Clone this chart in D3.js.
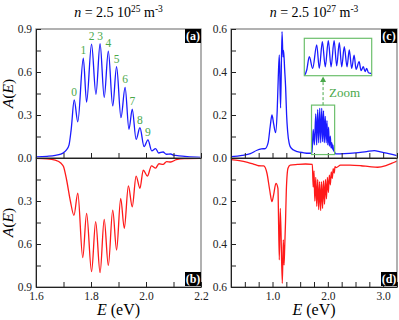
<!DOCTYPE html>
<html>
<head>
<meta charset="utf-8">
<script src="https://cdn.jsdelivr.net/npm/d3@7"></script>
<style>
body { margin: 0; background: #fff; }
</style>
</head>
<body>
<div id="chart"></div>
<script>
// panel (a): blue, n = 2.5e25
var aE = [1.60, 1.64, 1.67, 1.69, 1.70, 1.71, 1.72, 1.728, 1.739, 1.752, 1.772, 1.784, 1.802, 1.818, 1.833, 1.848, 1.863, 1.879, 1.893, 1.909, 1.924, 1.938, 1.950, 1.964, 1.978, 1.993, 2.007, 2.021, 2.035, 2.046, 2.062, 2.074, 2.09, 2.10, 2.12, 2.15, 2.20];
var aA = [0.008, 0.012, 0.018, 0.027, 0.037, 0.055, 0.09, 0.2, 0.405, 0.253, 0.696, 0.39, 0.795, 0.444, 0.797, 0.423, 0.746, 0.363, 0.637, 0.281, 0.493, 0.2, 0.34, 0.13, 0.211, 0.079, 0.126, 0.05, 0.066, 0.035, 0.042, 0.026, 0.028, 0.02, 0.015, 0.01, 0.005];
// peak numbers of (a)
var peakNum = ["0", "1", "2", "3", "4", "5", "6", "7", "8", "9"];
var peakE = [1.739, 1.772, 1.802, 1.833, 1.863, 1.893, 1.924, 1.950, 1.978, 2.007];
var peakA = [0.405, 0.696, 0.795, 0.797, 0.746, 0.637, 0.493, 0.34, 0.211, 0.126];

// panel (b): red
var bE = [1.60, 1.64, 1.67, 1.69, 1.70, 1.711, 1.725, 1.738, 1.752, 1.770, 1.784, 1.802, 1.817, 1.833, 1.848, 1.863, 1.879, 1.893, 1.908, 1.921, 1.936, 1.950, 1.964, 1.978, 1.990, 2.005, 2.020, 2.035, 2.047, 2.062, 2.075, 2.090, 2.11, 2.14, 2.20];
var bA = [0.003, 0.006, 0.015, 0.035, 0.06, 0.15, 0.3, 0.40, 0.246, 0.695, 0.386, 0.793, 0.444, 0.80, 0.428, 0.749, 0.363, 0.642, 0.281, 0.49, 0.195, 0.34, 0.126, 0.211, 0.084, 0.126, 0.055, 0.07, 0.04, 0.045, 0.025, 0.028, 0.012, 0.004, 0.002];

// panel (c): blue, n = 2.5e27
var cE = [0.25, 0.45, 0.60, 0.72, 0.80, 0.87, 0.92, 0.96, 0.99, 1.02, 1.056, 1.085, 1.105, 1.123, 1.146, 1.172, 1.19, 1.20, 1.22, 1.237, 1.255, 1.274, 1.30, 1.32, 1.38, 1.45, 1.55, 1.65, 1.705];
var cA = [0.006, 0.012, 0.02, 0.036, 0.042, 0.044, 0.07, 0.15, 0.2, 0.16, 0.118, 0.22, 0.38, 0.479, 0.233, 0.588, 0.47, 0.50, 0.41, 0.33, 0.2, 0.122, 0.07, 0.053, 0.037, 0.03, 0.025, 0.022, 0.022];
var cOscE = [1.711, 1.72, 1.736, 1.757, 1.782, 1.798, 1.817, 1.835, 1.854, 1.871, 1.89, 1.906, 1.922, 1.937, 1.953, 1.97, 1.984, 1.999, 2.014, 2.026, 2.045, 2.057, 2.071, 2.082, 2.092, 2.103, 2.117];
var cOscA = [0.026, 0.051, 0.133, 0.061, 0.205, 0.061, 0.225, 0.071, 0.231, 0.071, 0.231, 0.076, 0.219, 0.071, 0.194, 0.071, 0.174, 0.061, 0.143, 0.055, 0.102, 0.047, 0.071, 0.041, 0.061, 0.034, 0.031];
var cTailE = [2.14, 2.30, 2.50, 2.70, 2.84, 2.95, 3.10, 3.25];
var cTailA = [0.019, 0.02, 0.024, 0.03, 0.034, 0.028, 0.02, 0.011];

// panel (d): red
var dE = [0.25, 0.40, 0.55, 0.655, 0.75, 0.84, 0.90, 0.95, 0.99, 1.02, 1.062, 1.098, 1.123, 1.141, 1.177, 1.195, 1.208, 1.22, 1.235, 1.25, 1.28, 1.32, 1.45, 1.60, 1.72];
var dA = [0.008, 0.012, 0.02, 0.028, 0.036, 0.037, 0.071, 0.15, 0.203, 0.172, 0.118, 0.141, 0.474, 0.234, 0.583, 0.381, 0.498, 0.42, 0.3, 0.149, 0.048, 0.033, 0.03, 0.028, 0.03];
var dOscE = [1.735, 1.75, 1.765, 1.782, 1.80, 1.817, 1.835, 1.852, 1.87, 1.887, 1.905, 1.922, 1.94, 1.957, 1.975, 1.992, 2.01, 2.027, 2.045, 2.062, 2.08, 2.097, 2.115, 2.13, 2.15];
var dOscA = [0.135, 0.06, 0.2, 0.09, 0.225, 0.1, 0.24, 0.11, 0.245, 0.11, 0.235, 0.105, 0.215, 0.1, 0.19, 0.09, 0.16, 0.08, 0.125, 0.065, 0.095, 0.05, 0.07, 0.04, 0.045];
var dTailE = [2.23, 2.40, 2.60, 2.75, 2.90, 3.05, 3.15, 3.25];
var dTailA = [0.033, 0.033, 0.036, 0.04, 0.043, 0.035, 0.025, 0.014];

// zoom window of (c)
var zoomE = [1.705, 2.123];
var zoomA = [0.016, 0.246];

// ticks
var leftXTicks = [1.6, 1.7, 1.8, 1.9, 2.0, 2.1, 2.2];
var leftXLabels = [1.6, 1.8, 2.0, 2.2];
var leftYTicks = [0, 0.15, 0.3, 0.45, 0.6, 0.75, 0.9];
var leftYLabels = [0.3, 0.6, 0.9];
var rightXTicks = [0.25, 0.5, 0.75, 1.0, 1.25, 1.5, 1.75, 2.0, 2.25, 2.5, 2.75, 3.0, 3.25];
var rightXLabels = [1.0, 2.0, 3.0];
var rightYTicks = [0, 0.1, 0.2, 0.3, 0.4, 0.5, 0.6];
var rightYLabels = [0.2, 0.4, 0.6];

var serif = "Liberation Serif";
var green = "#4aa84a", boxGreen = "#6cbf6c";
var topY = 29, midY = 158, botY = 287;

var svg = d3.select("#chart").append("svg")
    .attr("width", 399).attr("height", 320)
    .style("font-family", serif);

function pick(labels, withZero) {
    return function(d) {
        var ok = labels.some(function(l) { return Math.abs(l - d) < 1e-9; });
        if (withZero && Math.abs(d) < 1e-9) ok = true;
        return ok ? d3.format(".1f")(d) : "";
    };
}

function styleAxis(g) {
    g.attr("font-family", null).attr("font-size", 11.5);
    g.selectAll("path, line").attr("stroke", "#222").attr("stroke-width", 1);
    g.selectAll("text").attr("fill", "#222");
}

var clipId = 0;
function drawPanel(x, y, yTicks, yLabels, withZero, xTicks, xLabels, showX, series, color, tag, tagTop) {
    var x0 = x.range()[0], x1 = x.range()[1];
    var yr = y.range(), y0 = Math.min(yr[0], yr[1]), y1 = Math.max(yr[0], yr[1]);
    clipId++;
    svg.append("clipPath").attr("id", "clip" + clipId)
      .append("rect").attr("x", x0).attr("y", y0).attr("width", x1 - x0).attr("height", y1 - y0);

    var line = d3.line()
        .x(function(d) { return x(d[0]); })
        .y(function(d) { return y(d[1]); })
        .curve(d3.curveMonotoneX);
    svg.append("path")
        .datum(series)
        .attr("clip-path", "url(#clip" + clipId + ")")
        .attr("fill", "none")
        .attr("stroke", color)
        .attr("stroke-width", 1.3)
        .attr("d", line);

    // frame
    svg.append("rect").attr("x", x0).attr("y", y0).attr("width", x1 - x0).attr("height", y1 - y0)
        .attr("fill", "none").attr("stroke", "#888").attr("stroke-width", 1.3);

    var ya = svg.append("g").attr("transform", "translate(" + x0 + ",0)")
        .call(d3.axisLeft(y).tickValues(yTicks).tickSizeInner(-5).tickSizeOuter(0).tickPadding(4)
            .tickFormat(pick(yLabels, withZero)));
    styleAxis(ya);

    var xa = svg.append("g").attr("transform", "translate(0," + (tagTop ? midY : botY) + ")")
        .call(d3.axisBottom(x).tickValues(xTicks).tickSizeInner(-5).tickSizeOuter(0).tickPadding(5)
            .tickFormat(showX ? pick(xLabels, false) : function() { return ""; }));
    styleAxis(xa);

    // panel tag
    var tw = 16, th = 14;
    var ty = tagTop ? y0 : y1 - th - 1;
    svg.append("rect").attr("x", x1 - tw).attr("y", ty).attr("width", tw).attr("height", th).attr("fill", "#000");
    svg.append("text").attr("x", x1 - tw / 2).attr("y", ty + th / 2 + 4)
        .attr("text-anchor", "middle").attr("fill", "#fff").attr("font-weight", "bold")
        .attr("font-size", 12).text(tag);
}

function zip(E, A) { return E.map(function(e, i) { return [e, A[i]]; }); }

// scales
var xL = d3.scaleLinear().domain([1.6, 2.2]).range([36, 201]);
var xR = d3.scaleLinear().domain([0.25, 3.25]).range([231, 397]);
var yA = d3.scaleLinear().domain([0, 0.9]).range([midY, topY]);
var yB = d3.scaleLinear().domain([0, 0.9]).range([midY, botY]);
var yC = d3.scaleLinear().domain([0, 0.6]).range([midY, topY]);
var yD = d3.scaleLinear().domain([0, 0.6]).range([midY, botY]);

drawPanel(xL, yB, leftYTicks, leftYLabels, false, leftXTicks, leftXLabels, true, zip(bE, bA), "#ff1a1a", "(b)", false);
drawPanel(xL, yA, leftYTicks, leftYLabels, true, leftXTicks, leftXLabels, false, zip(aE, aA), "#1a1aff", "(a)", true);
drawPanel(xR, yD, rightYTicks, rightYLabels, false, rightXTicks, rightXLabels, true,
    zip(dE.concat(dOscE, dTailE), dA.concat(dOscA, dTailA)), "#ff1a1a", "(d)", false);
var cSeries = zip(cE.concat(cOscE, cTailE), cA.concat(cOscA, cTailA));
drawPanel(xR, yC, rightYTicks, rightYLabels, true, rightXTicks, rightXLabels, false, cSeries, "#1a1aff", "(c)", true);

// peak numbers
svg.append("g").selectAll("text").data(peakNum).join("text")
    .attr("x", function(d, i) { return xL(peakE[i]); })
    .attr("y", function(d, i) { return yA(peakA[i]) - 4; })
    .attr("text-anchor", "middle").attr("font-size", 11.5).attr("fill", green)
    .text(function(d) { return d; });

// zoom box in (c)
var bx0 = xR(zoomE[0]), bx1 = xR(zoomE[1]), by0 = yC(zoomA[1]), by1 = yC(zoomA[0]);
svg.append("rect").attr("x", bx0).attr("y", by0).attr("width", bx1 - bx0).attr("height", by1 - by0)
    .attr("fill", "none").attr("stroke", boxGreen).attr("stroke-width", 1.2);

// inset
var ix = d3.scaleLinear().domain(zoomE).range([304.3, 371.7]);
var iy = d3.scaleLinear().domain(zoomA).range([75.7, 38.3]);
svg.append("clipPath").attr("id", "clipInset")
  .append("rect").attr("x", 304.3).attr("y", 38.3).attr("width", 67.4).attr("height", 37.4);
svg.append("rect").attr("x", 304.3).attr("y", 38.3).attr("width", 67.4).attr("height", 37.4)
    .attr("fill", "#fff");
svg.append("path").datum(cSeries)
    .attr("clip-path", "url(#clipInset)")
    .attr("fill", "none").attr("stroke", "#1a1aff").attr("stroke-width", 1.3)
    .attr("d", d3.line().x(function(d) { return ix(d[0]); }).y(function(d) { return iy(d[1]); }).curve(d3.curveMonotoneX));
svg.append("rect").attr("x", 304.3).attr("y", 38.3).attr("width", 67.4).attr("height", 37.4)
    .attr("fill", "none").attr("stroke", boxGreen).attr("stroke-width", 1.2);

// arrow
var ax = (bx0 + bx1) / 2;
svg.append("line").attr("x1", ax).attr("x2", ax).attr("y1", by0).attr("y2", 82)
    .attr("stroke", green).attr("stroke-width", 1).attr("stroke-dasharray", "3,2");
svg.append("path").attr("d", "M" + (ax - 3) + ",82L" + (ax + 3) + ",82L" + ax + ",76.5Z").attr("fill", green);
svg.append("text").attr("x", 329).attr("y", 97).attr("font-size", 13).attr("fill", green).text("Zoom");

// titles
function title(cx, expo) {
    var t = svg.append("text").attr("x", cx).attr("y", 17).attr("text-anchor", "middle").attr("font-size", 14);
    t.append("tspan").attr("font-style", "italic").text("n");
    t.append("tspan").text(" = 2.5 10");
    t.append("tspan").attr("dy", -5).attr("font-size", 9.5).text(expo);
    t.append("tspan").attr("dy", 5).text(" m");
    t.append("tspan").attr("dy", -5).attr("font-size", 9.5).text("-3");
}
title(118.5, "25");
title(314, "27");

// axis titles
function yTitle(cy) {
    var t = svg.append("text").attr("transform", "translate(13," + cy + ") rotate(-90)")
        .attr("text-anchor", "middle").attr("font-size", 15.5);
    t.append("tspan").attr("font-style", "italic").text("A");
    t.append("tspan").text("(");
    t.append("tspan").attr("font-style", "italic").text("E");
    t.append("tspan").text(")");
}
yTitle((topY + midY) / 2);
yTitle((midY + botY) / 2);

function xTitle(cx) {
    var t = svg.append("text").attr("x", cx).attr("y", 315).attr("text-anchor", "middle").attr("font-size", 16);
    t.append("tspan").attr("font-style", "italic").text("E");
    t.append("tspan").text(" (eV)");
}
xTitle(118.5);
xTitle(314);
</script>
</body>
</html>
